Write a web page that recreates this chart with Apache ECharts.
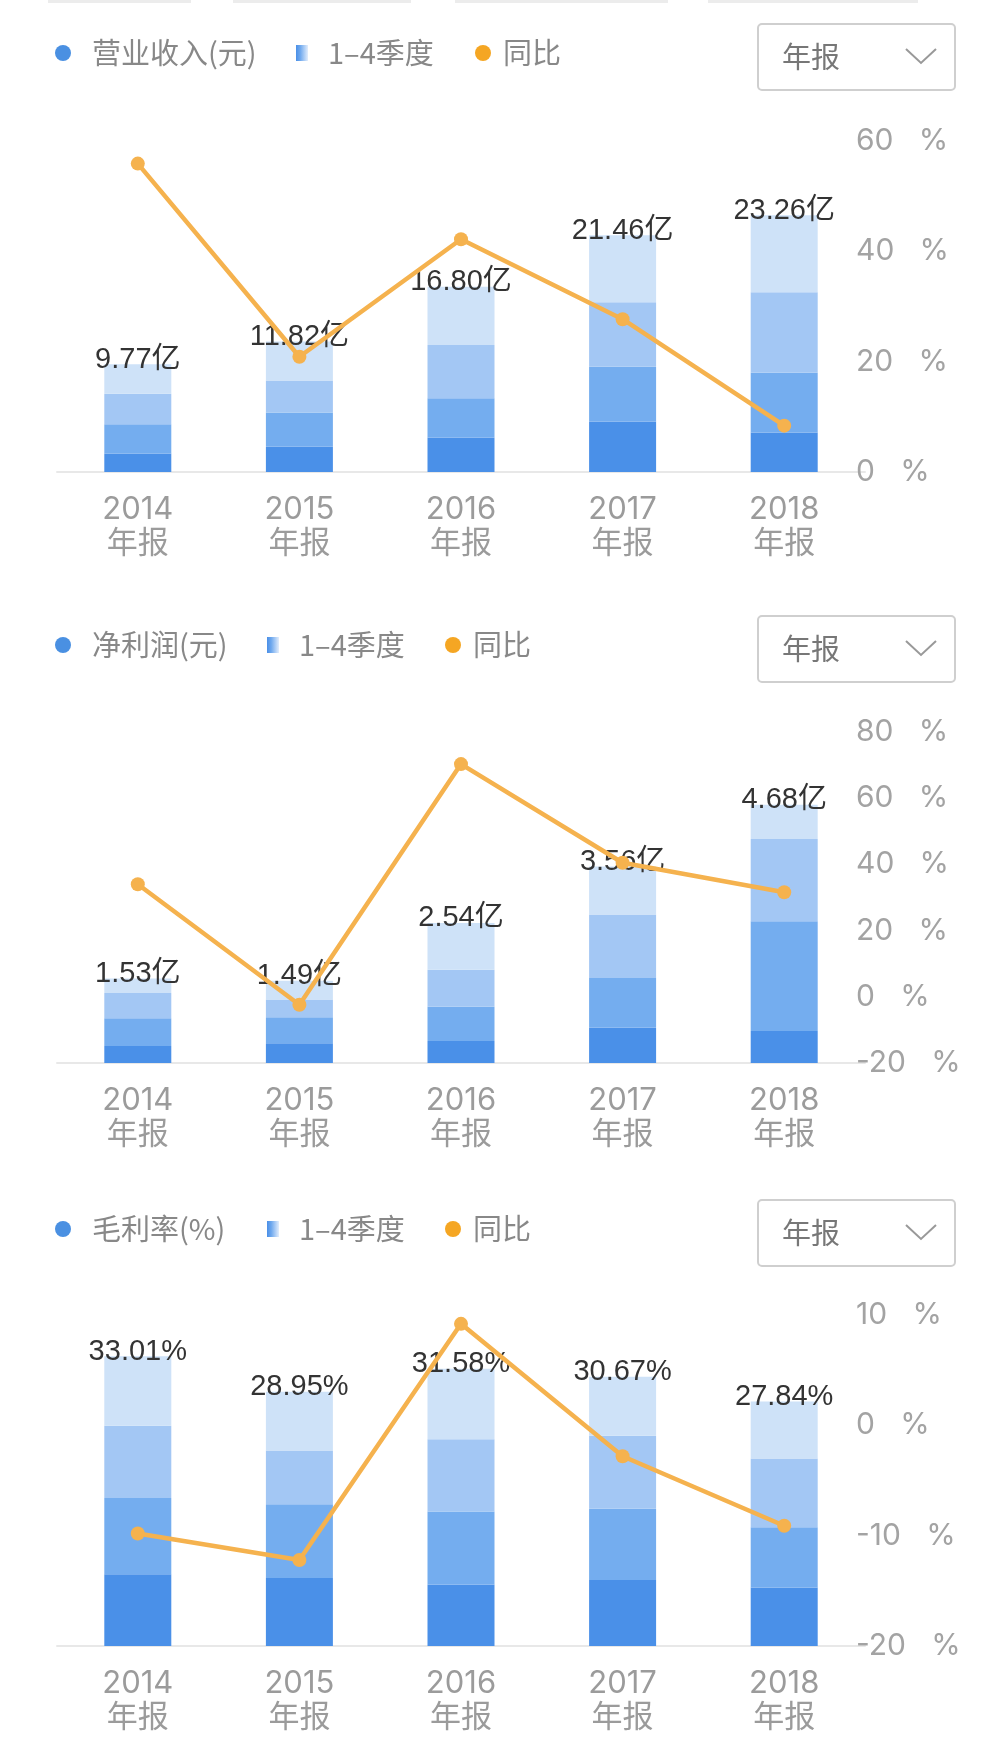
<!DOCTYPE html>
<html><head><meta charset="utf-8">
<script src="https://cdn.jsdelivr.net/npm/echarts@6/dist/echarts.min.js"></script>
<style>html,body{margin:0;padding:0;background:#fff}#c{width:1000px;height:1754px}</style>
</head><body><div id="c"></div>
<script>
// ---------- data ----------
const categories = ['2014年报', '2015年报', '2016年报', '2017年报', '2018年报'];

// 营业收入 (亿元), quarterly stacks + totals, 同比 (%)
const revenueTotal = [9.77, 11.82, 16.80, 21.46, 23.26];
const revenueQ1 = [1.67, 2.29, 3.11, 4.58, 3.57];
const revenueQ2 = [2.65, 3.11, 3.57, 4.95, 5.43];
const revenueQ3 = [2.78, 2.90, 4.82, 5.86, 7.29];
const revenueQ4 = [2.67, 3.52, 5.30, 6.07, 6.97];
const revenueYoY = [55.9, 20.9, 42.2, 27.7, 8.4];

// 净利润 (亿元)
const profitTotal = [1.53, 1.49, 2.54, 3.56, 4.68];
const profitQ1 = [0.31, 0.36, 0.40, 0.64, 0.58];
const profitQ2 = [0.50, 0.47, 0.62, 0.90, 1.99];
const profitQ3 = [0.46, 0.32, 0.67, 1.15, 1.49];
const profitQ4 = [0.26, 0.34, 0.85, 0.87, 0.62];
const profitYoY = [34.0, -2.4, 70.3, 40.5, 31.6];

// 毛利率 (%)
const marginTotal = [33.01, 28.95, 31.58, 30.67, 27.84];
const marginQ1 = [8.16, 7.74, 6.99, 7.53, 6.66];
const marginQ2 = [8.70, 8.41, 8.32, 8.11, 6.87];
const marginQ3 = [8.24, 6.12, 8.24, 8.32, 7.82];
const marginQ4 = [7.91, 6.68, 8.03, 6.71, 6.49];
const marginYoY = [-9.8, -12.2, 9.2, -2.8, -9.1];

const legendTitles = ['营业收入(元)', '净利润(元)', '毛利率(%)'];
const legendBar = '1–4季度';
const legendLine = '同比';
const dropdownText = '年报';

// ---------- styling / layout ----------
const quarterColors = ['#4a90e8', '#74adef', '#a3c7f4', '#cee2f8'];
const lineColor = '#f5b24e';
const FONT = "'Liberation Sans','Noto Sans CJK SC',sans-serif";
const AXF = "Inter,'Noto Sans CJK SC',sans-serif";
const CJK = "'Noto Sans CJK SC','Liberation Sans',sans-serif";

const panels = [
  {top: 141, dy: 0, quarters: [revenueQ1, revenueQ2, revenueQ3, revenueQ4], total: revenueTotal, yoy: revenueYoY,
   unit: '亿', leftMax: 30, rMin: 0, rMax: 60, rInt: 20, iconX: 296, dot2X: 483},
  {top: 732, dy: 592, quarters: [profitQ1, profitQ2, profitQ3, profitQ4], total: profitTotal, yoy: profitYoY,
   unit: '亿', leftMax: 6, rMin: -20, rMax: 80, rInt: 20, iconX: 267, dot2X: 453},
  {top: 1315, dy: 1176, quarters: [marginQ1, marginQ2, marginQ3, marginQ4], total: marginTotal, yoy: marginYoY,
   unit: '%', leftMax: 37.7, rMin: -20, rMax: 10, rInt: 10, iconX: 267, dot2X: 453}
];

const grid = [], xAxis = [], yAxis = [], series = [], graphic = [];

// faint tab edges at the very top
[[48, 191], [233, 411], [455, 668], [708, 918]].forEach(function (t) {
  graphic.push({type: 'rect', shape: {x: t[0], y: 0, width: t[1] - t[0], height: 3}, style: {fill: '#ececec'}, silent: true});
});

panels.forEach(function (p, i) {
  grid.push({left: 57, width: 808, top: p.top, height: 331});
  xAxis.push({
    type: 'category', gridIndex: i, data: categories,
    axisLine: {lineStyle: {color: '#e8e8e8', width: 2}},
    axisTick: {show: false},
    axisLabel: {
      formatter: function (v) { return v.slice(0, 4) + '\n' + v.slice(4); },
      fontSize: 31, lineHeight: 34, color: '#9b9b9b', margin: 21, fontFamily: AXF
    }
  });
  yAxis.push({type: 'value', gridIndex: i, min: 0, max: p.leftMax, show: false, splitLine: {show: false}});
  yAxis.push({
    type: 'value', gridIndex: i, position: 'right', offset: -30, min: p.rMin, max: p.rMax, interval: p.rInt,
    axisLine: {show: false}, axisTick: {show: false}, splitLine: {show: false},
    axisLabel: {formatter: '{value}   %', fontSize: 30, color: '#a3a3a3', margin: 21, fontFamily: AXF}
  });
  p.quarters.forEach(function (q, k) {
    const s = {
      type: 'bar', name: legendBar, xAxisIndex: i, yAxisIndex: 2 * i, stack: 'st' + i,
      barWidth: 67, data: q, itemStyle: {color: quarterColors[k]}, z: 2
    };
    if (k === 3) {
      s.label = {
        show: true, position: 'top', distance: -10, fontSize: 29, color: '#333', fontFamily: FONT,
        formatter: function (d) { return p.total[d.dataIndex].toFixed(2) + p.unit; }
      };
    }
    series.push(s);
  });
  series.push({
    type: 'line', name: legendLine, xAxisIndex: i, yAxisIndex: 2 * i + 1, data: p.yoy, z: 5,
    symbol: 'circle', symbolSize: 14,
    lineStyle: {color: lineColor, width: 4.5}, itemStyle: {color: lineColor}
  });

  // legend row
  const ly = 53 + p.dy;
  graphic.push({type: 'circle', shape: {cx: 63, cy: ly, r: 8}, style: {fill: '#4a90e2'}});
  graphic.push({type: 'text', style: {x: 92, y: ly, text: legendTitles[i], fill: '#888', font: '29px ' + CJK, verticalAlign: 'middle'}});
  graphic.push({type: 'rect', shape: {x: p.iconX, y: ly - 8, width: 12, height: 16},
    style: {fill: new echarts.graphic.LinearGradient(0, 0, 1, 0, [{offset: 0, color: '#4a8fe7'}, {offset: 0.35, color: '#6ea8ee'}, {offset: 1, color: '#e2edfc'}])}});
  graphic.push({type: 'text', style: {x: p.iconX + 32, y: ly, text: legendBar, fill: '#888', font: '29px ' + CJK, verticalAlign: 'middle'}});
  graphic.push({type: 'circle', shape: {cx: p.dot2X, cy: ly, r: 8}, style: {fill: '#f5a623'}});
  graphic.push({type: 'text', style: {x: p.dot2X + 20, y: ly, text: legendLine, fill: '#888', font: '29px ' + CJK, verticalAlign: 'middle'}});

  // dropdown box
  const by = 24 + p.dy;
  graphic.push({type: 'rect', shape: {x: 758, y: by, width: 197, height: 66, r: 4}, style: {fill: '#fff', stroke: '#cfcfcf', lineWidth: 2}});
  graphic.push({type: 'text', style: {x: 782, y: by + 33, text: dropdownText, fill: '#777', font: '29px ' + CJK, verticalAlign: 'middle'}});
  graphic.push({type: 'polyline', shape: {points: [[906, by + 25], [921, by + 39], [936, by + 25]]}, style: {stroke: '#999', lineWidth: 2, fill: null}});
});

const chart = echarts.init(document.getElementById('c'));
chart.setOption({
  backgroundColor: '#fff',
  animation: false,
  textStyle: {fontFamily: FONT},
  grid: grid, xAxis: xAxis, yAxis: yAxis, series: series, graphic: graphic
});
</script></body></html>
